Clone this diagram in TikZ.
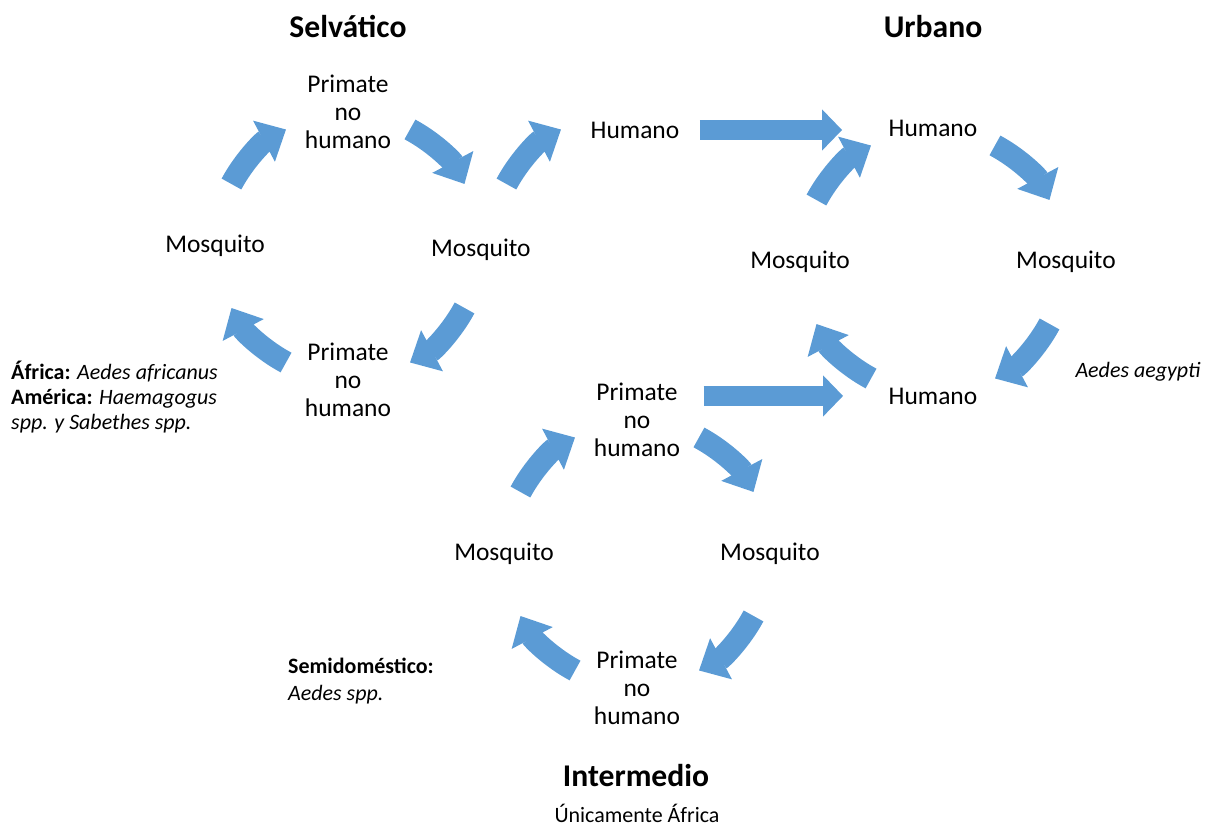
\documentclass[tikz,border=0pt]{standalone}
\usepackage{fontspec}
\setmainfont{Carlito}
\usepackage{xcolor}
\usetikzlibrary{calc, arrows.meta}
\definecolor{flechaColor}{RGB}{91,155,213}
\tikzset{
    ciclo/.style={
        font=\fontsize{14.5}{16}\selectfont,
        align=center,
        inner sep=3pt
    },
    titulo/.style={
        font=\fontsize{18}{20}\selectfont\bfseries
    },
    nota/.style={
        font=\fontsize{12.5}{14}\selectfont,
        align=left
    },
    flecha/.style={
        -{Triangle[length=0.5cm, width=0.9cm]},
        line width=0.45cm,
        draw=flechaColor
    },
    recta/.style={
        -{Triangle[length=0.4cm, width=0.8cm]},
        line width=0.4cm,
        draw=flechaColor
    }
}

\begin{document}
\begin{tikzpicture}[x=0.02cm, y=0.02cm]
    \useasboundingbox (0,0) rectangle (1215,827);

    % Ciclo selvático
    \coordinate (selC) at (348,581);
    \node[titulo] (selTit) at (348,800) {Selvático};
    \node[ciclo] (selPT) at ($(selC)+(90:2.68cm)$) {Primate\\no\\humano};
    \node[ciclo] (selMR) at ($(selC)+(-1.5:2.66cm)$) {Mosquito};
    \node[ciclo] (selPB) at ($(selC)+(-90:2.68cm)$) {Primate\\no\\humano};
    \node[ciclo] (selML) at ($(selC)+(180:2.66cm)$) {Mosquito};
    \foreach \a in {135,45,-45,-135}
        \draw[flecha] ($(selC)+(\a+17:2.64cm)$) arc[start angle=\a+17, end angle=\a-17, radius=2.64cm];
    \node[nota, anchor=west] (notaSel) at (5,430) {\textbf{África:} \textit{Aedes africanus}\\\textbf{América:} \textit{Haemagogus}\\\textit{spp. y Sabethes spp.}};

    % Paso al humano
    \node[ciclo] (humM) at (635,697) {Humano};
    \coordinate (puenteC) at (623,581);
    \draw[flecha] ($(puenteC)+(152:2.64cm)$) arc[start angle=152, end angle=118, radius=2.64cm];

    % Ciclo urbano
    \coordinate (urbC) at (933,565);
    \node[titulo] (urbTit) at (933,800) {Urbano};
    \node[ciclo] (urbHT) at ($(urbC)+(90:2.68cm)$) {Humano};
    \node[ciclo] (urbMR) at ($(urbC)+(0:2.66cm)$) {Mosquito};
    \node[ciclo] (urbHB) at ($(urbC)+(-90:2.68cm)$) {Humano};
    \node[ciclo] (urbML) at ($(urbC)+(180:2.66cm)$) {Mosquito};
    \foreach \a in {135,45,-45,-135}
        \draw[flecha] ($(urbC)+(\a+17:2.64cm)$) arc[start angle=\a+17, end angle=\a-17, radius=2.64cm];
    \node[nota] (notaUrb) at (1138,455) {\textit{Aedes aegypti}};

    % Ciclo intermedio
    \coordinate (intC) at (637,273);
    \node[ciclo] (intPT) at ($(intC)+(90:2.68cm)$) {Primate\\no\\humano};
    \node[ciclo] (intMR) at ($(intC)+(0:2.66cm)$) {Mosquito};
    \node[ciclo] (intPB) at ($(intC)+(-90:2.68cm)$) {Primate\\no\\humano};
    \node[ciclo] (intML) at ($(intC)+(180:2.66cm)$) {Mosquito};
    \foreach \a in {135,45,-45,-135}
        \draw[flecha] ($(intC)+(\a+17:2.64cm)$) arc[start angle=\a+17, end angle=\a-17, radius=2.64cm];
    \node[nota, anchor=west] (notaInt) at (282,146) {\textbf{Semidoméstico:}\\[1pt]\textit{Aedes spp.}};
    \node[titulo] (intTit) at (636,51) {Intermedio};
    \node[nota] (unica) at (637,14) {Únicamente África};

    % Flechas rectas
    \draw[recta, shorten <=0.3cm, shorten >=0.82cm] (humM.east) -- (humM.east -| urbHT.west);
    \draw[recta, shorten <=0.36cm, shorten >=0.8cm] (intPT.east |- urbHB.west) -- (urbHB.west);
\end{tikzpicture}
\end{document}
